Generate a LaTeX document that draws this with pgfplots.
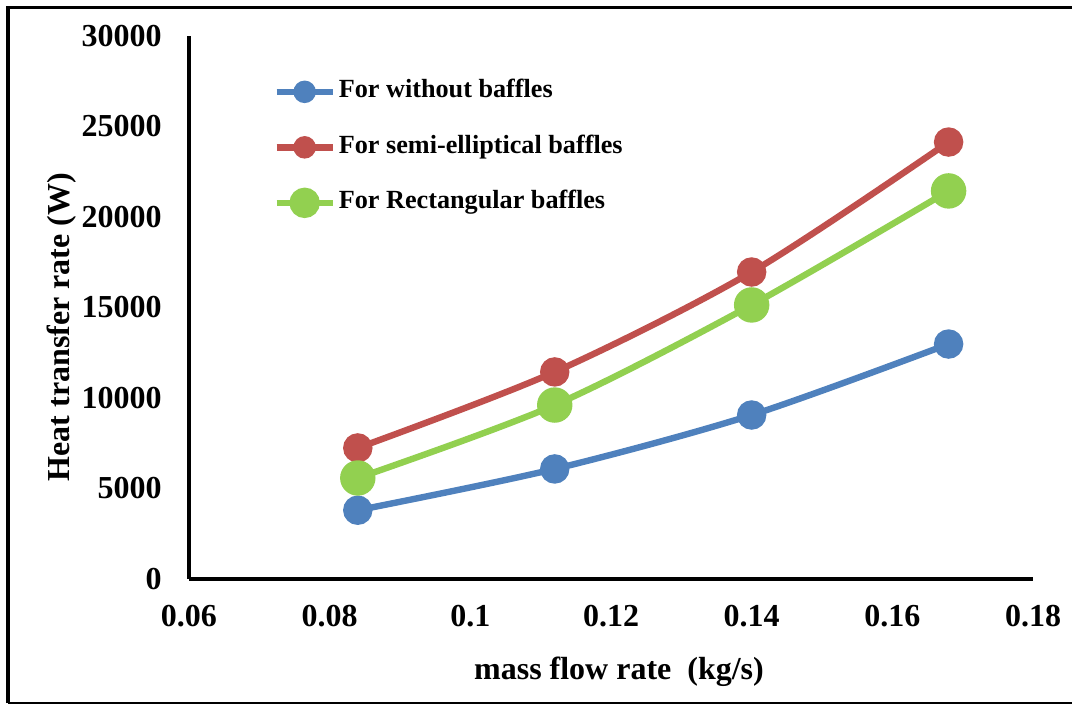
\documentclass[border=0pt]{standalone}
\usepackage{fontspec}
\setmainfont{Liberation Serif}
\usepackage{pgfplots}
\pgfplotsset{compat=1.18}
\definecolor{cblue}{HTML}{4F81BD}
\definecolor{cred}{HTML}{C0504D}
\definecolor{cgreen}{HTML}{92D050}
\begin{document}
\begin{tikzpicture}
\useasboundingbox (0,0) rectangle (536pt,352.5pt);
\draw[line width=1.8pt] (4pt,0.9pt) -- (4pt,348.7pt) -- (536pt,348.7pt);
\draw[line width=0.8pt] (4pt,0.9pt) -- (536pt,0.9pt);
\begin{axis}[
  at={(94.5pt,63pt)}, anchor=south west,
  scale only axis, width=422pt, height=271.5pt,
  xmin=0.06, xmax=0.18, ymin=0, ymax=30000,
  xtick={0.06,0.08,0.1,0.12,0.14,0.16,0.18},
  ytick={0,5000,10000,15000,20000,25000,30000},
  scaled ticks=false,
  xticklabels={0.06,0.08,0.1,0.12,0.14,0.16,0.18},
  yticklabel={\pgfmathprintnumber[fixed,1000 sep={}]{\tick}},
  axis x line*=bottom, axis y line*=left,
  axis line style={line width=2pt, -},
  major tick length=0pt,
  /pgf/number format/assume math mode=true,
  tick label style={font=\fontsize{16}{16}\selectfont\bfseries},
  xticklabel style={inner sep=0pt, anchor=north, yshift=-13pt},
  yticklabel style={inner sep=0pt, anchor=east, xshift=-13.5pt},
  xlabel={mass flow rate~~(kg/s)},
  ylabel={Heat transfer rate (W)},
  label style={font=\fontsize{16}{16}\selectfont\bfseries},
  xlabel style={at={(axis description cs:0.5095,-0.186)}, anchor=base, inner sep=0pt},
  ylabel style={at={(axis description cs:-0.141,0.464)}, anchor=base, inner sep=0pt},
  legend style={at={(axis description cs:0.0996,0.920)}, anchor=north west,
    draw=none, fill=none, inner sep=0pt, row sep=15.75pt,
    font=\fontsize{13.1}{13.1}\selectfont\bfseries,
    nodes={inner sep=0pt, text height=9pt, text depth=3pt},
    /tikz/column 2/.style={column sep=0pt}},
  legend cell align=left,
  clip=false,
]
\addplot[cblue, line width=3.2pt, smooth, tension=0.5, mark=*, mark size=5.75pt,
  mark options={cblue, solid},
  legend image code/.code={\draw[cblue, line width=3.2pt] (0pt,0pt) -- (28pt,0pt);
    \fill[cblue, overlay] (14pt,0pt) circle (4pt);}]
coordinates {(0.084,3800) (0.112,6080) (0.14,9060) (0.168,12980)};
\addlegendentry{\hspace{1.5pt}For without baffles}
\addplot[cred, line width=3.2pt, smooth, tension=0.5, mark=*, mark size=5.75pt,
  mark options={cred, solid},
  legend image code/.code={\draw[cred, line width=3.2pt] (0pt,0pt) -- (28pt,0pt);
    \fill[cred, overlay] (14pt,0pt) circle (4pt);}]
coordinates {(0.084,7240) (0.112,11440) (0.14,16960) (0.168,24140)};
\addlegendentry{\hspace{1.5pt}For semi-elliptical baffles}
\addplot[cgreen, line width=3.2pt, smooth, tension=0.5, mark=*, mark size=7.25pt,
  mark options={cgreen, solid},
  legend image code/.code={\draw[cgreen, line width=3.2pt] (0pt,0pt) -- (28pt,0pt);
    \fill[cgreen, overlay] (14pt,0pt) circle (6pt);}]
coordinates {(0.084,5580) (0.112,9610) (0.14,15140) (0.168,21440)};
\addlegendentry{\hspace{1.5pt}For Rectangular baffles}
\end{axis}
\end{tikzpicture}
\end{document}
